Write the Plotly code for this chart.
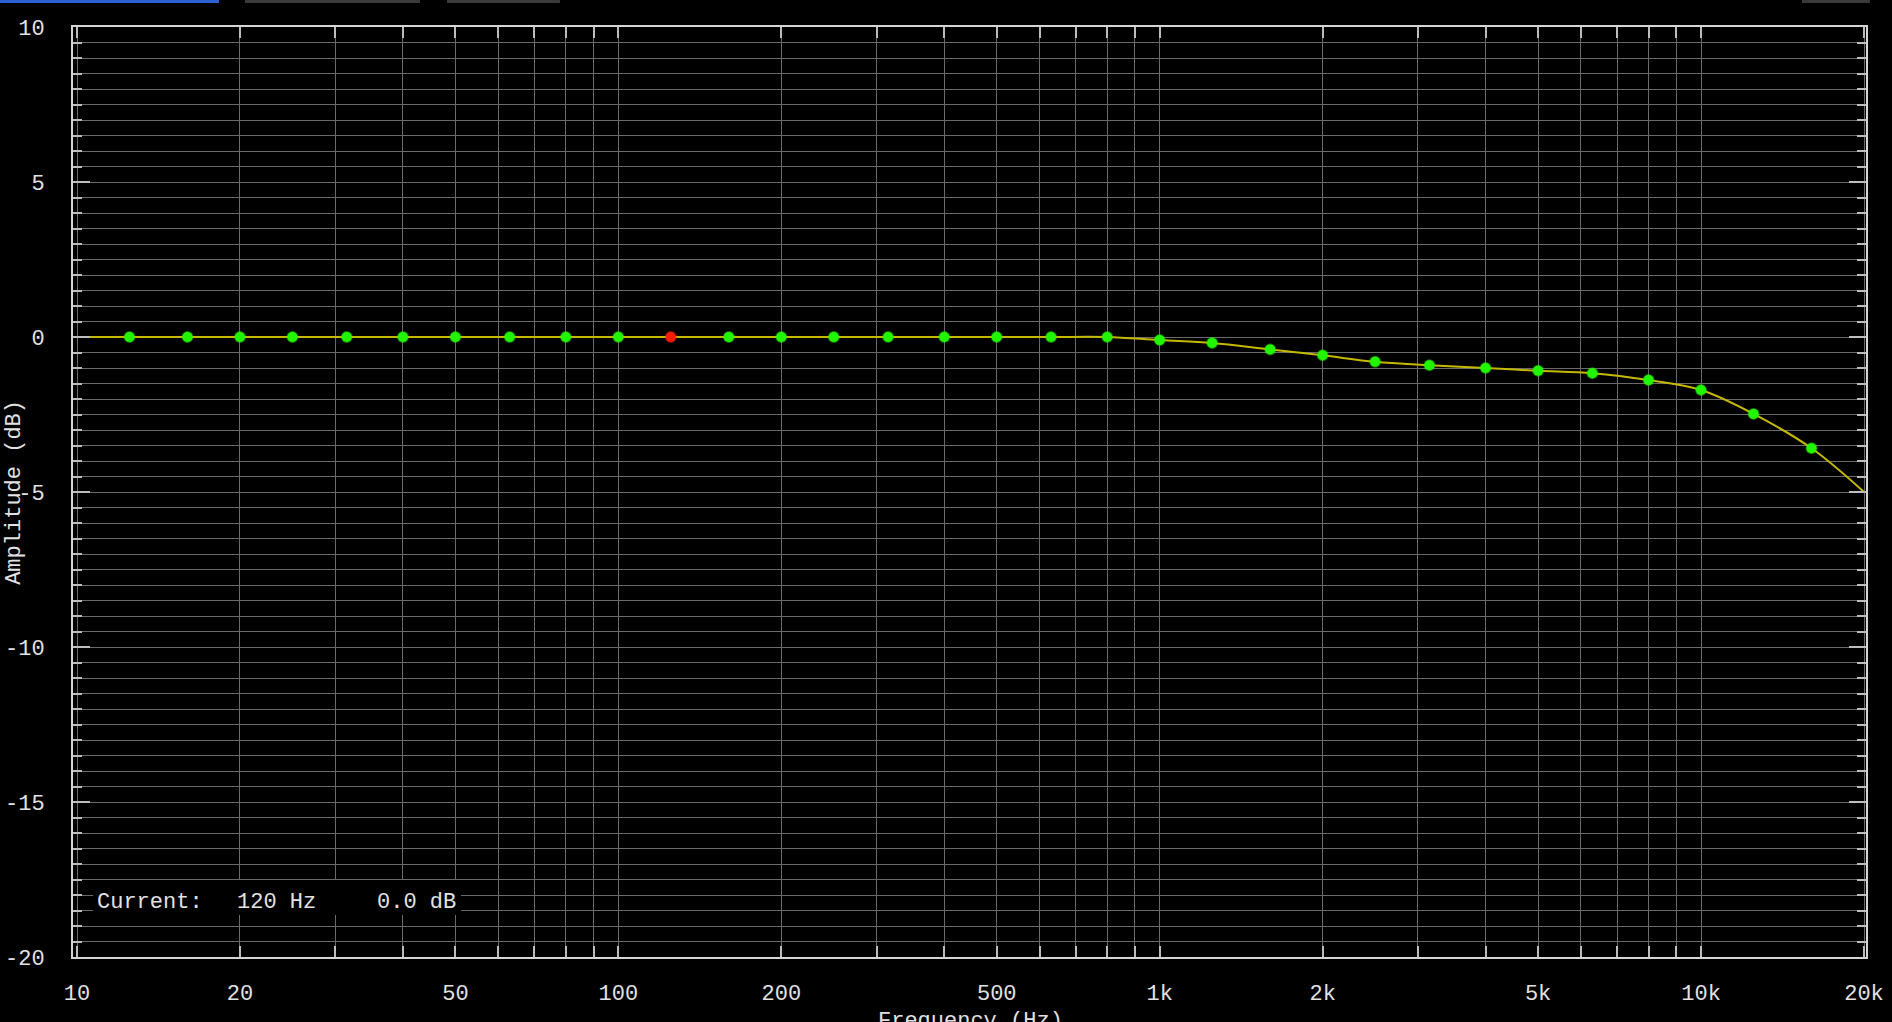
import numpy as np
import plotly.graph_objects as go

# ---- data -------------------------------------------------------------
band_hz = [12.5, 16, 20, 25, 31.5, 40, 50, 63, 80, 100, 125, 160, 200, 250, 315,
           400, 500, 630, 800, 1000, 1250, 1600, 2000, 2500, 3150, 4000, 5000,
           6300, 8000, 10000, 12500, 16000]
band_db = [0.0, 0.0, 0.0, 0.0, 0.0, 0.0, 0.0, 0.0, 0.0, 0.0, 0.0, 0.0, 0.0, 0.0,
           0.0, 0.0, 0.0, 0.0, 0.0, -0.10, -0.19, -0.40, -0.59, -0.80, -0.91,
           -1.00, -1.09, -1.17, -1.39, -1.71, -2.48, -3.59]
edge_hz = [10, 20000]
edge_db = [0.0, -5.0]
current_hz = 125
current_label = ["Current:", "120 Hz", "0.0 dB"]

x_tickvals = [10, 20, 50, 100, 200, 500, 1000, 2000, 5000, 10000, 20000]
x_ticktext = ["10", "20", "50", "100", "200", "500", "1k", "2k", "5k", "10k", "20k"]
x_gridvals = [30, 40, 60, 70, 80, 90, 300, 400, 600, 700, 800, 900,
              3000, 4000, 6000, 7000, 8000, 9000]
y_tickvals = [10, 5, 0, -5, -10, -15, -20]
y_ticktext = ["10", "5", "0", "-5", "-10", "-15", "-20"]

# ---- style ------------------------------------------------------------
FONT = "Liberation Mono, DejaVu Sans Mono, monospace"
TXT = "#e2e2e2"
GRID = "#6a6a6a"
FRAME = "#d4d4d4"
TICK = "#bdbdbd"

curve_x = [edge_hz[0]] + band_hz + [edge_hz[1]]
curve_y = [edge_db[0]] + band_db + [edge_db[1]]

colors = ["#ff1a00" if f == current_hz else "#22f500" for f in band_hz]
glow = ["rgba(255,40,0,0.45)" if f == current_hz else "rgba(40,255,0,0.45)" for f in band_hz]

fig = go.Figure()
fig.add_trace(go.Scatter(
    x=curve_x, y=curve_y, mode="lines",
    line=dict(color="#c4b800", width=2, shape="spline", smoothing=1.0),
    hoverinfo="skip", showlegend=False))
fig.add_trace(go.Scatter(
    x=band_hz, y=band_db, mode="markers",
    marker=dict(size=10, color=colors, line=dict(color=glow, width=2)),
    showlegend=False))

fig.update_layout(
    width=1892, height=1022,
    paper_bgcolor="#000000", plot_bgcolor="#000000",
    margin=dict(l=73, r=26, t=27, b=65, autoexpand=False),
    font=dict(family=FONT, size=22, color=TXT),
    showlegend=False,
)

fig.update_xaxes(
    type="log", automargin=False,
    range=[np.log10(edge_hz[0]) - 0.0074, np.log10(edge_hz[1]) + 0.0037],
    tickmode="array", tickvals=x_tickvals, ticktext=x_ticktext,
    ticks="inside", ticklen=11, tickwidth=2, tickcolor=TICK,
    showgrid=True, gridcolor=GRID, gridwidth=1,
    showline=True, linecolor=FRAME, linewidth=2, mirror="ticks",
    zeroline=False, ticklabelstandoff=15,
    tickfont=dict(family=FONT, size=22, color=TXT),
    minor=dict(tickmode="array", tickvals=x_gridvals, ticks="inside",
               ticklen=11, tickwidth=2, tickcolor=TICK,
               showgrid=True, gridcolor=GRID, gridwidth=1),
)
fig.update_yaxes(
    range=[-20, 10], automargin=False,
    tickmode="array", tickvals=y_tickvals, ticktext=y_ticktext,
    ticks="inside", ticklen=17, tickwidth=2, tickcolor=TICK,
    showgrid=True, gridcolor=GRID, gridwidth=1,
    showline=True, linecolor=FRAME, linewidth=2, mirror="ticks",
    zeroline=False, ticklabelstandoff=22,
    tickfont=dict(family=FONT, size=22, color=TXT),
    minor=dict(dtick=0.5, tick0=0, ticks="inside", ticklen=9, tickwidth=2,
               tickcolor=TICK, showgrid=True, gridcolor=GRID, gridwidth=1),
)

# axis titles
fig.add_annotation(text="Amplitude (dB)", xref="paper", yref="paper",
                   x=-0.033, y=0.5, xanchor="center", yanchor="middle",
                   textangle=-90, showarrow=False,
                   font=dict(family=FONT, size=22, color=TXT))
fig.add_annotation(text="Frequency (Hz)", xref="paper", yref="paper",
                   x=0.5008, y=-0.069, xanchor="center", yanchor="middle",
                   showarrow=False, font=dict(family=FONT, size=22, color=TXT))

# "Current" readout box
fig.add_shape(type="rect", xref="paper", yref="paper", layer="above",
              x0=0.0112, x1=0.2164, y0=0.0452, y1=0.0828,
              fillcolor="#000000", line=dict(width=0))
for txt, px in zip(current_label, [0.0121, 0.0902, 0.1683]):
    fig.add_annotation(text=txt, xref="paper", yref="paper", x=px, y=0.0585,
                       xanchor="left", yanchor="middle", showarrow=False,
                       font=dict(family=FONT, size=22, color=TXT))

# window tab slivers at the very top
for x0, x1, col in [(-0.0407, 0.0814, "#2d62d6"), (0.0959, 0.1935, "#3a3a3a"),
                    (0.2086, 0.2716, "#3a3a3a"), (0.9643, 1.0022, "#3a3a3a")]:
    fig.add_shape(type="rect", xref="paper", yref="paper", layer="above",
                  x0=x0, x1=x1, y0=1.0258, y1=1.03, fillcolor=col, line=dict(width=0))

fig.write_html(
    "out.html",
    config={"displayModeBar": False},
    post_script="document.body.style.margin='0';document.body.style.background='#000';"
                "document.documentElement.style.overflow='hidden';",
)
